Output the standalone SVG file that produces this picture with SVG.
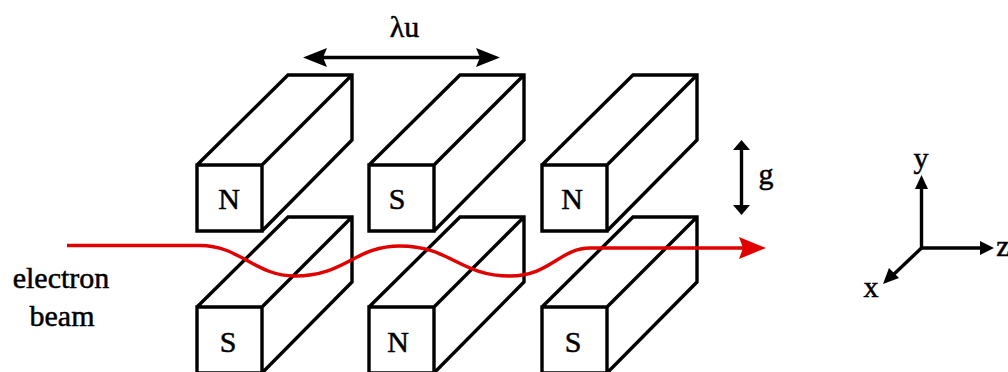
<svg xmlns="http://www.w3.org/2000/svg" width="1008" height="372" viewBox="0 0 1008 372">
<style>
.m{fill:none;stroke:#000;stroke-width:3.400;stroke-linejoin:miter}
.t{font-family:"Liberation Serif","Times New Roman",serif;font-size:30px;fill:#000;stroke:#000;stroke-width:.5;text-anchor:middle}
.a{fill:none;stroke:#000;stroke-width:3.400}
.k{fill:#000}
</style>
<defs>
<path id="mag" class="m" d="M0,0H65V66H0ZM0,0L91,-90H155V-25L65,66M65,0L155,-90"/>
</defs>
<rect width="1008" height="372" fill="#fff"/>
<g id="magnet-top-1"><use href="#mag" x="197" y="165"/><text class="t" x="229" y="209">N</text></g>
<g id="magnet-top-2"><use href="#mag" x="369" y="165"/><text class="t" x="397" y="209">S</text></g>
<g id="magnet-top-3"><use href="#mag" x="542" y="165"/><text class="t" x="572" y="209">N</text></g>
<g id="magnet-bottom-1"><use href="#mag" x="197" y="307"/><text class="t" x="228" y="352">S</text></g>
<g id="magnet-bottom-2"><use href="#mag" x="369" y="307"/><text class="t" x="398" y="352">N</text></g>
<g id="magnet-bottom-3"><use href="#mag" x="542" y="307"/><text class="t" x="573" y="352">S</text></g>
<g id="connectors">
<path class="a" d="M318,57.500H485"/>
<path class="k" d="M303,57.500L327,48L323,57.500L327,67Z"/>
<path class="k" d="M500,57.500L476,48L480,57.500L476,67Z"/>
<path class="a" d="M741.500,148V207"/>
<path class="k" d="M741.500,140L750,150H733Z"/>
<path class="k" d="M741.500,215L750,205H733Z"/>
<path class="a" d="M921.500,248V185"/>
<path class="k" d="M921.500,175L928,189H915Z"/>
<path class="a" d="M921.500,248H985"/>
<path class="k" d="M994,248L980,241V255Z"/>
<path class="a" d="M921.500,248L892,276"/>
<path class="k" d="M883,284L889,268L899,278Z"/>
<path fill="none" stroke="#e00000" stroke-width="3.400" d="M67,245.500H200C240,245.500 255,276 295,276C345,276 355,246 400,246C450,246 460,276 510,276C550,276 560,248 590,248H745"/>
<path fill="#e00000" d="M766,248L739,237L743,248L739,259Z"/>
</g>
<g id="labels">
<text class="t" x="404.500" y="37">λu</text>
<text class="t" x="766" y="184">g</text>
<text class="t" x="921" y="168">y</text>
<text class="t" x="1003" y="256">z</text>
<text class="t" x="871" y="297">x</text>
<text class="t" x="61" y="288">electron</text>
<text class="t" x="62" y="326">beam</text>
</g>
</svg>
